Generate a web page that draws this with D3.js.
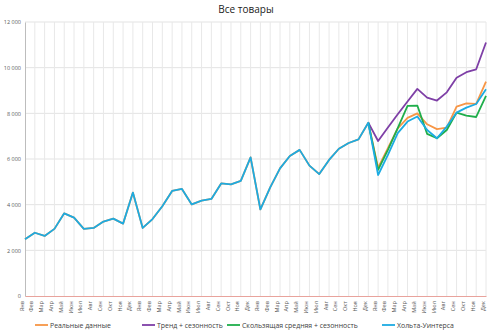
<!DOCTYPE html>
<html><head><meta charset="utf-8">
<script src="https://cdn.jsdelivr.net/npm/d3@7/dist/d3.min.js"></script>
<style>
body{margin:0;background:#fff;}
svg{display:block;font-family:"Open Sans","Liberation Sans",sans-serif;}
</style></head>
<body><svg id="c" width="494" height="332"></svg>
<script>
const months = ["Янв","Фев","Мар","Апр","Май","Июн","Июл","Авг","Сен","Окт","Ноя","Дек"];
const categories = [].concat(months, months, months, months);
const yTicks = [0, 2000, 4000, 6000, 8000, 10000, 12000];
const actual = [
  2490, 2770, 2630, 2940, 3620, 3430, 2940, 2980, 3260, 3390, 3170, 4530,
  2980, 3370, 3930, 4600, 4690, 4010, 4180, 4250, 4930, 4890, 5040, 6070,
  3790, 4760, 5590, 6130, 6400, 5710, 5340, 5960, 6450, 6700, 6860, 7590,
  5620, 6470, 7340, 7800, 8000, 7520, 7310, 7370, 8290, 8440, 8410, 9390
];
const forecastStart = 35;
const trendSeason = [7590, 6790, 7380, 7960, 8520, 9070, 8690, 8560, 8920, 9560, 9800, 9930, 11100];
const movingAvgSeason = [7590, 5520, 6400, 7350, 8330, 8340, 7100, 6910, 7270, 8030, 7900, 7840, 8760];
const holtWinters = [
  2490, 2770, 2630, 2940, 3620, 3430, 2940, 2980, 3260, 3390, 3170, 4530,
  2980, 3370, 3930, 4600, 4690, 4010, 4180, 4250, 4930, 4890, 5040, 6070,
  3790, 4760, 5590, 6130, 6400, 5710, 5340, 5960, 6450, 6700, 6860, 7590,
  5300, 6180, 7130, 7640, 7860, 7270, 6910, 7420, 8030, 8250, 8410, 9050
];
const seriesNames = ["Реальные данные", "Тренд + сезонность", "Скользящая средняя + сезонность", "Хольта-Уинтерса"];
const colors = ["#f79646", "#7e3fa6", "#1fae4b", "#1cabe2"];
const title = "Все товары";

const svg = d3.select("#c");
const L = 25, R = 486, T = 22, B = 296;
const idx = d3.range(categories.length);
const x = d3.scalePoint().domain(idx).range([L, R]);
const y = d3.scaleLinear().domain([0, 12000]).range([B, T]);
const fmt = v => d3.format(",")(v).replace(/,/g, " ");

svg.append("text").attr("x", 246).attr("y", 13).attr("text-anchor", "middle")
  .attr("font-size", 10).attr("fill", "#222").text(title);

// grid
const g = svg.append("g");
g.selectAll(".hg").data(yTicks.filter(d => d > 0)).join("line")
  .attr("x1", L).attr("x2", R).attr("y1", d => y(d)).attr("y2", d => y(d))
  .attr("stroke", "#e3e3e3").attr("stroke-width", 1);
g.selectAll(".vg").data(idx.slice(1)).join("line")
  .attr("x1", d => x(d)).attr("x2", d => x(d)).attr("y1", T).attr("y2", B)
  .attr("stroke", "#e8e8e8").attr("stroke-width", 1);

// y axis
const ya = svg.append("g").attr("transform", `translate(${L},0)`)
  .call(d3.axisLeft(y).tickValues(yTicks).tickFormat(fmt).tickSize(0).tickPadding(4));
ya.select(".domain").attr("stroke", "#bdbdbd");
ya.selectAll("text").attr("font-size", 5.5).attr("fill", "#595959").attr("font-family", "Open Sans, sans-serif");

// x axis
const xa = svg.append("g").attr("transform", `translate(0,${B})`)
  .call(d3.axisBottom(x).tickFormat(i => categories[i]).tickSize(0).tickPadding(3));
xa.select(".domain").attr("stroke", "#e8a39c").attr("stroke-width", 1);
xa.selectAll("text").attr("font-size", 5.5).attr("fill", "#595959")
  .attr("font-family", "Open Sans, sans-serif")
  .attr("transform", "rotate(-90)").attr("text-anchor", "end")
  .attr("dx", "-0.4em").attr("dy", "-0.35em").attr("y", 0).attr("x", -3);

const line = d3.line().x(d => x(d.i)).y(d => y(d.v));
const mk = (arr, start) => arr.map((v, k) => ({ i: start + k, v }));
const data = [mk(actual, 0), mk(trendSeason, forecastStart), mk(movingAvgSeason, forecastStart), mk(holtWinters, 0)];
svg.append("g").selectAll("path").data(data).join("path")
  .attr("d", line).attr("fill", "none")
  .attr("stroke", (d, k) => colors[k]).attr("stroke-width", 1.8)
  .attr("stroke-linejoin", "round");

// legend
const legX = [35, 142, 227, 382];
const lg = svg.append("g").attr("transform", "translate(0,325)");
seriesNames.forEach((n, k) => {
  lg.append("line").attr("x1", legX[k]).attr("x2", legX[k] + 13).attr("y1", 0).attr("y2", 0)
    .attr("stroke", colors[k]).attr("stroke-width", 1.8);
  lg.append("text").attr("x", legX[k] + 15).attr("y", 2.5).attr("font-size", 6.9)
    .attr("fill", "#404040").text(n);
});
</script></body></html>
